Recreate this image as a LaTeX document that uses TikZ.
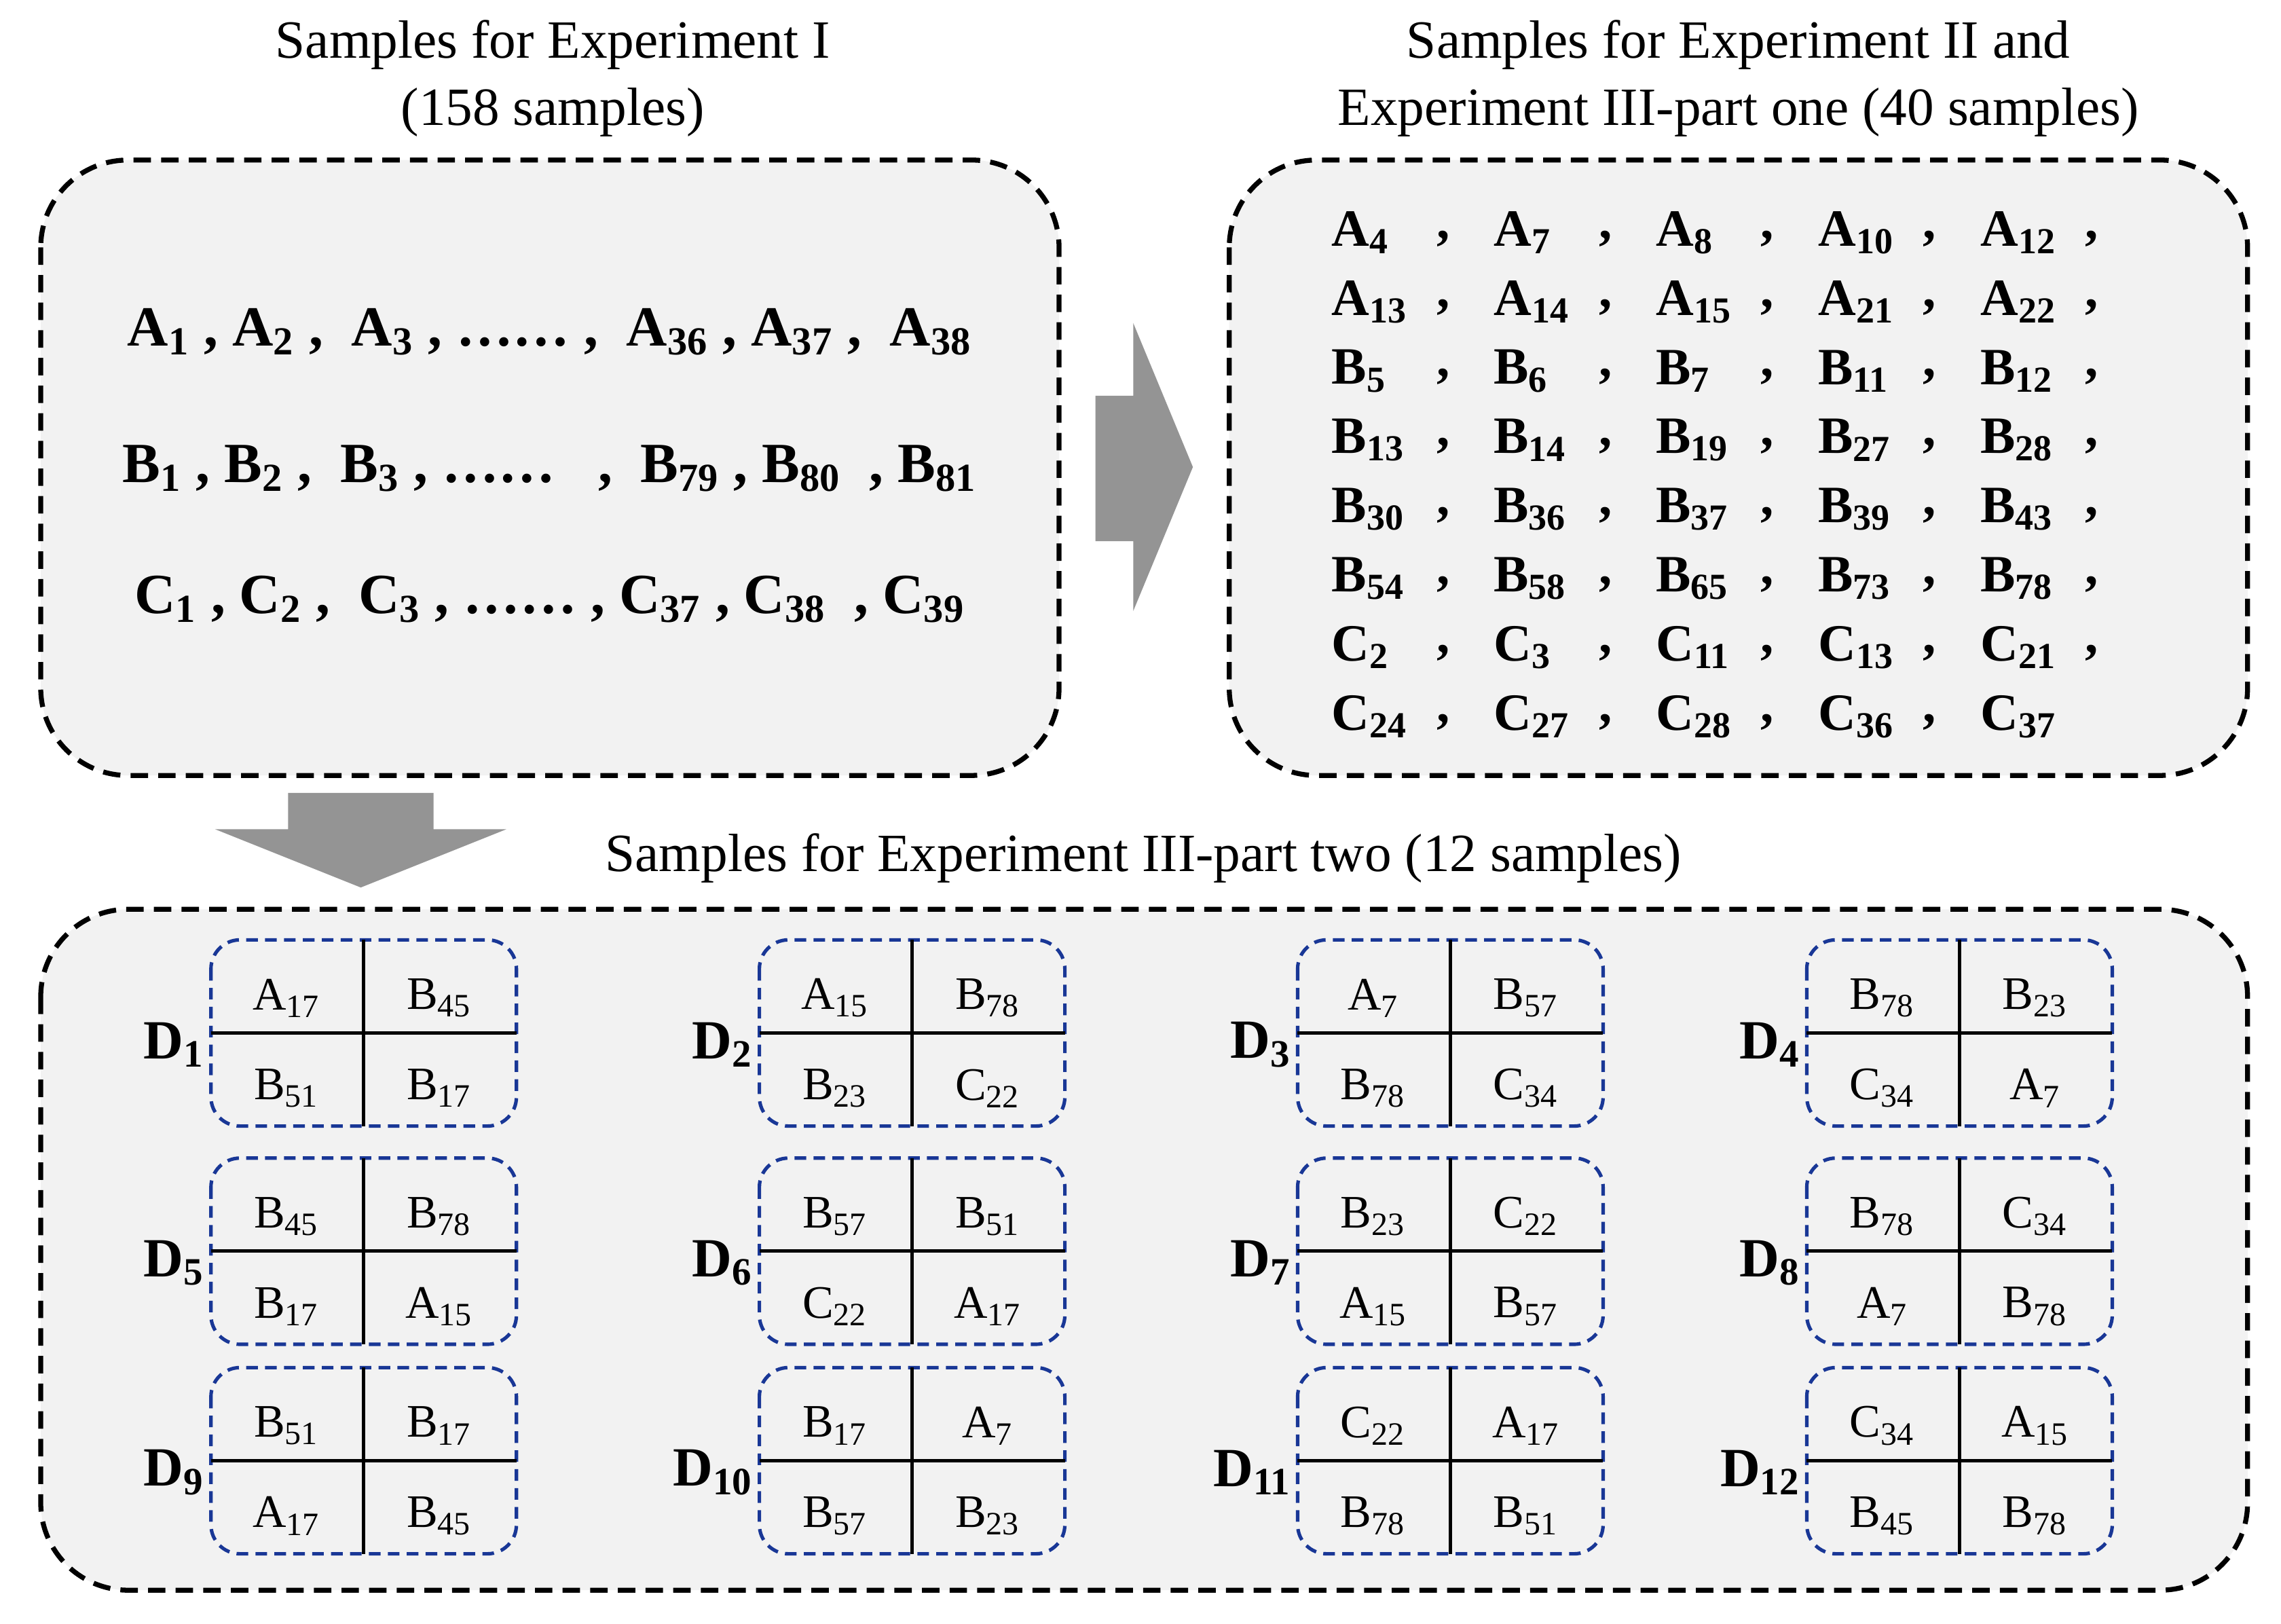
\documentclass[tikz,border=0pt]{standalone}
\usepackage{fontspec}
\setmainfont{Liberation Serif}
\newcommand\smp[2]{#1\textsubscript{#2}}
\newcommand\bsm[2]{\textbf{#1\textsubscript{#2}}}
\definecolor{boxfill}{RGB}{242,242,242}
\definecolor{dblue}{RGB}{25,55,150}
\begin{document}
\begin{tikzpicture}[x=0.5pt,y=-0.5pt,
  big/.style={draw=black,line width=1.7pt,dash pattern=on 6pt off 3.5pt,fill=boxfill,rounded corners=30pt},
  small/.style={draw=dblue,line width=1.2pt,dash pattern=on 4pt off 2.5pt,rounded corners=10pt},
  ttl/.style={font=\fontsize{18.5}{23}\selectfont,align=center},
  ent/.style={font=\fontsize{18}{20}\selectfont\bfseries,inner sep=0pt},
  ent1/.style={font=\fontsize{19.5}{20}\selectfont\bfseries,inner sep=0pt},
  cell/.style={font=\fontsize{16}{18}\selectfont,inner sep=0pt},
  dl/.style={font=\fontsize{19}{20}\selectfont\bfseries,inner sep=0pt},
  arr/.style={fill=black!42,draw=none}]
\useasboundingbox (0,0) rectangle (1568,1116);
% boxes
\draw[big] (28,110) rectangle (728,533);
\draw[big] (845,110) rectangle (1545,533);
\draw[big] (28,625) rectangle (1545,1093);
% titles
\node[ttl] (t1) at (380,54) {Samples for Experiment I\\(158 samples)};
\node[ttl] (t2) at (1195,54) {Samples for Experiment II and\\Experiment III-part one (40 samples)};
\node[ttl] (t3) at (786,590) {Samples for Experiment III-part two (12 samples)};
% arrows
\fill[arr] (753,272) -- (779,272) -- (779,222) -- (820,321) -- (779,420) -- (779,372) -- (753,372) -- cycle;
\fill[arr] (198,545) -- (298,545) -- (298,570) -- (348,570) -- (248,610) -- (148,570) -- (198,570) -- cycle;
% box 1 rows
\node[ent1] (ra) at (378,228) {\bsm{A}{1} , \bsm{A}{2} ,\ \ \bsm{A}{3} , …… ,\ \ \bsm{A}{36} ,\ \bsm{A}{37} ,\ \ \bsm{A}{38}};
\node[ent1] (rb) at (378,322) {\bsm{B}{1} , \bsm{B}{2} ,\ \ \bsm{B}{3} , ……\ \ \ ,\ \ \bsm{B}{79} , \bsm{B}{80} \ , \bsm{B}{81}};
\node[ent1] (rc) at (378,412) {\bsm{C}{1} , \bsm{C}{2} ,\ \ \bsm{C}{3} , …… , \bsm{C}{37} , \bsm{C}{38} \ , \bsm{C}{39}};
% box 2 grid
\foreach \row [count=\r] in {
 {A/4,A/7,A/8,A/10,A/12},{A/13,A/14,A/15,A/21,A/22},{B/5,B/6,B/7,B/11,B/12},
 {B/13,B/14,B/19,B/27,B/28},{B/30,B/36,B/37,B/39,B/43},{B/54,B/58,B/65,B/73,B/78},
 {C/2,C/3,C/11,C/13,C/21},{C/24,C/27,C/28,C/36,C/37}}{
  \foreach \L/\n [count=\c] in \row {
    \pgfmathsetmacro\yy{160+(\r-1)*47.5}
    \pgfmathsetmacro\xx{915+(\c-1)*111.5}
    \node[ent,anchor=west] (g\r-\c) at (\xx,\yy) {\bsm{\L}{\n}};
    \ifnum\r<8 \node[ent] (cm\r-\c) at (\xx+77,\yy+4) {,};\else\ifnum\c<5 \node[ent] (cm\r-\c) at (\xx+77,\yy+4) {,};\fi\fi
  }
}
% small boxes
\foreach \k/\X/\Y/\aL/\aN/\bL/\bN/\cL/\cN/\dL/\dN in {
 1/145/646/A/17/B/45/B/51/B/17, 2/522/646/A/15/B/78/B/23/C/22, 3/892/646/A/7/B/57/B/78/C/34, 4/1242/646/B/78/B/23/C/34/A/7,
 5/145/796/B/45/B/78/B/17/A/15, 6/522/796/B/57/B/51/C/22/A/17, 7/892/796/B/23/C/22/A/15/B/57, 8/1242/796/B/78/C/34/A/7/B/78,
 9/145/940/B/51/B/17/A/17/B/45, 10/522/940/B/17/A/7/B/57/B/23, 11/892/940/C/22/A/17/B/78/B/51, 12/1242/940/C/34/A/15/B/45/B/78}{
  \draw[small] (\X,\Y) rectangle ++(210,128);
  \draw[line width=1.2pt] (\X+105,\Y) -- (\X+105,\Y+128);
  \draw[line width=1.2pt] (\X,\Y+64) -- (\X+210,\Y+64);
  \node[dl,anchor=east] (d\k) at (\X-4,\Y+72) {\bsm{D}{\k}};
  \node[cell] (c\k a) at (\X+52,\Y+40) {\smp{\aL}{\aN}};
  \node[cell] (c\k b) at (\X+157,\Y+40) {\smp{\bL}{\bN}};
  \node[cell] (c\k c) at (\X+52,\Y+102) {\smp{\cL}{\cN}};
  \node[cell] (c\k d) at (\X+157,\Y+102) {\smp{\dL}{\dN}};
}
\end{tikzpicture}
\end{document}
